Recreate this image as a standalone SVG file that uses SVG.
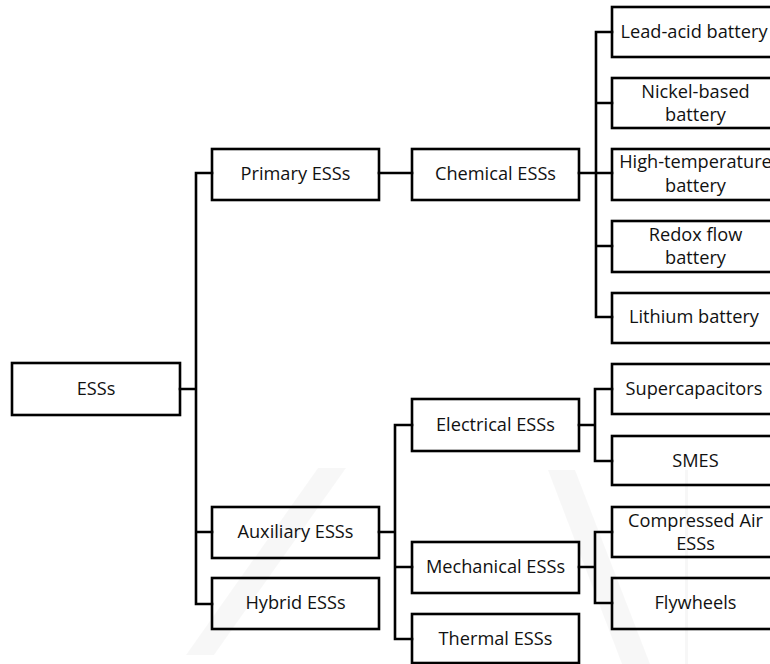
<svg xmlns="http://www.w3.org/2000/svg" width="770" height="664" viewBox="0 0 770 664">
  <style>
    .box { fill: none; stroke: #000; stroke-width: 2.6; }
    .lbl { font-family: "Open Sans", "Noto Sans", "Liberation Sans", sans-serif; font-size: 18.2px; fill: #111; text-anchor: middle; }
    .wire { fill: none; stroke: #000; stroke-width: 2.6; stroke-linecap: square; }
    .mark { fill: #000; opacity: 0.03; }
  </style>
  <rect width="770" height="664" fill="#fff"/>

  <!-- faint background logo -->
  <g id="watermark">
    <polygon class="mark" points="186,655 318,468 346,468 214,655"/>
    <polygon class="mark" points="548,470 575,470 650,664 622,664"/>
    <rect class="mark" x="685" y="470" width="3" height="194"/>
  </g>

  <!-- connectors -->
  <g id="connectors">
    <path class="wire" d="M180 389 H196 M196 173 V604 M196 173 H212 M196 532 H212 M196 604 H212"/>
    <path class="wire" d="M379 173 H412"/>
    <path class="wire" d="M579 173 H596 M596 32 V317 M596 32 H612 M596 103 H612 M596 173 H612 M596 246 H612 M596 317 H612"/>
    <path class="wire" d="M379 532 H395 M395 425 V639 M395 425 H412 M395 567 H412 M395 639 H412"/>
    <path class="wire" d="M579 425 H595 M595 389 V461 M595 389 H612 M595 461 H612"/>
    <path class="wire" d="M579 567 H595 M595 532 V603 M595 532 H612 M595 603 H612"/>
  </g>

  <g id="n-esss"><rect class="box" x="12" y="363" width="168" height="52"/><text class="lbl" x="96" y="395">ESSs</text></g>

  <g id="n-primary"><rect class="box" x="212" y="149" width="167" height="51"/><text class="lbl" x="295.5" y="180">Primary ESSs</text></g>
  <g id="n-auxiliary"><rect class="box" x="212" y="507" width="167" height="51"/><text class="lbl" x="295.5" y="538">Auxiliary ESSs</text></g>
  <g id="n-hybrid"><rect class="box" x="212" y="578" width="167" height="51"/><text class="lbl" x="295.5" y="609">Hybrid ESSs</text></g>

  <g id="n-chemical"><rect class="box" x="412" y="149" width="167" height="51"/><text class="lbl" x="495.5" y="180">Chemical ESSs</text></g>
  <g id="n-electrical"><rect class="box" x="412" y="399" width="167" height="52"/><text class="lbl" x="495.5" y="431">Electrical ESSs</text></g>
  <g id="n-mechanical"><rect class="box" x="412" y="542" width="167" height="51"/><text class="lbl" x="495.5" y="573">Mechanical ESSs</text></g>
  <g id="n-thermal"><rect class="box" x="412" y="614" width="167" height="49"/><text class="lbl" x="495.5" y="645">Thermal ESSs</text></g>

  <g id="n-leadacid"><rect class="box" x="612" y="7" width="170" height="50"/><text class="lbl" x="694" y="38">Lead-acid battery</text></g>
  <g id="n-nickel"><rect class="box" x="612" y="78" width="170" height="50"/><text class="lbl" x="695.5" y="98">Nickel-based</text><text class="lbl" x="695.5" y="121">battery</text></g>
  <g id="n-hightemp"><rect class="box" x="612" y="149" width="170" height="51"/><text class="lbl" x="695.5" y="168">High-temperature</text><text class="lbl" x="695.5" y="192">battery</text></g>
  <g id="n-redox"><rect class="box" x="612" y="221" width="170" height="51"/><text class="lbl" x="695.5" y="241">Redox flow</text><text class="lbl" x="695.5" y="264">battery</text></g>
  <g id="n-lithium"><rect class="box" x="612" y="293" width="170" height="50"/><text class="lbl" x="694" y="323">Lithium battery</text></g>
  <g id="n-supercap"><rect class="box" x="612" y="364" width="170" height="50"/><text class="lbl" x="694" y="395">Supercapacitors</text></g>
  <g id="n-smes"><rect class="box" x="612" y="436" width="170" height="49"/><text class="lbl" x="695.5" y="467">SMES</text></g>
  <g id="n-caes"><rect class="box" x="612" y="507" width="170" height="50"/><text class="lbl" x="695.5" y="527">Compressed Air</text><text class="lbl" x="695.5" y="550">ESSs</text></g>
  <g id="n-flywheels"><rect class="box" x="612" y="578" width="170" height="51"/><text class="lbl" x="695.5" y="609">Flywheels</text></g>
</svg>
